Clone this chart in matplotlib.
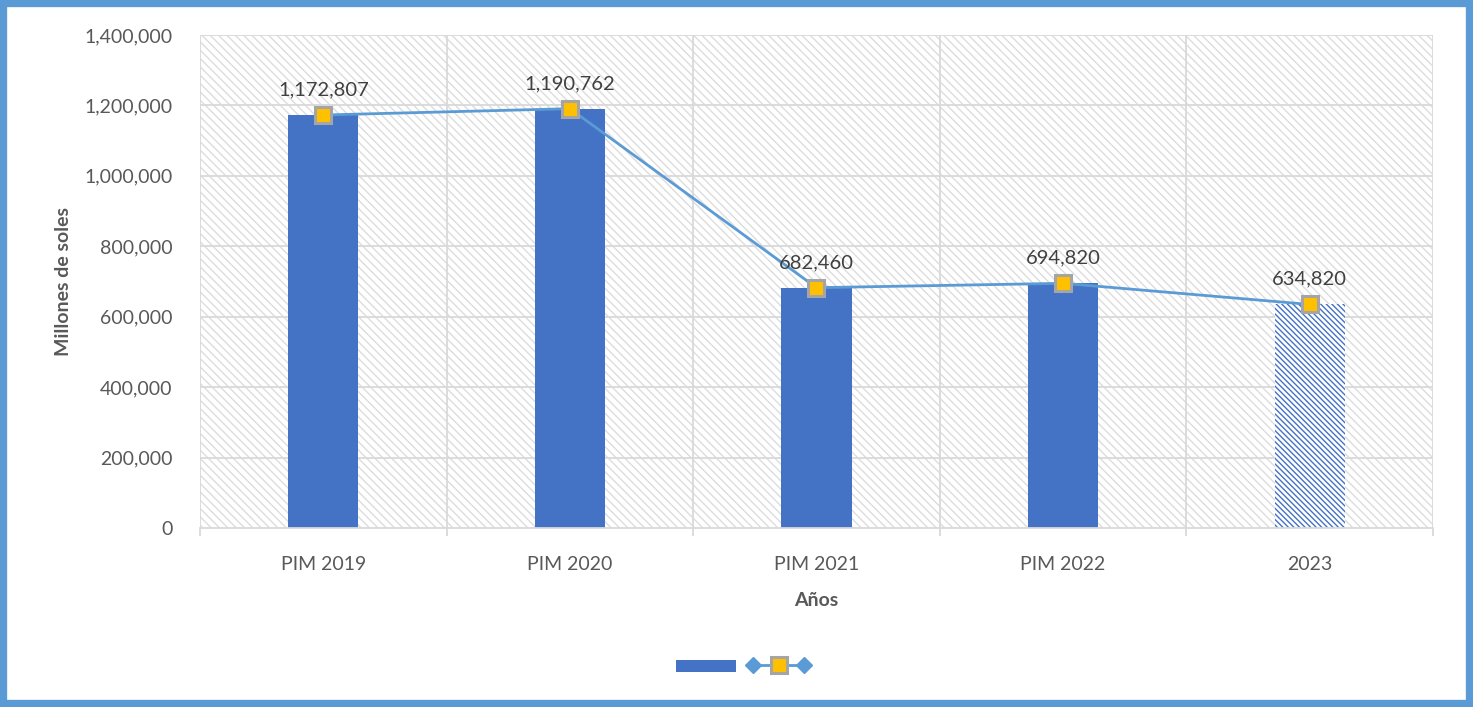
import matplotlib.pyplot as plt
import matplotlib.ticker as mticker
from matplotlib.patches import Rectangle
from matplotlib.lines import Line2D
from matplotlib.legend_handler import HandlerLine2D, HandlerTuple
import numpy as np

## Datos
categorias = ['PIM 2019', 'PIM 2020', 'PIM 2021', 'PIM 2022', '2023']
valores = [1172807, 1190762, 682460, 694820, 634820]
etiquetas = ['1,172,807', '1,190,762', '682,460', '694,820', '634,820']

azul = '#4472C4'
azul_linea = '#5B9BD5'
amarillo = '#FFC000'
gris_borde = '#A5A5A5'
gris_texto = '#595959'
gris_grid = '#D9D9D9'

plt.rcParams['font.family'] = ['Lato', 'DejaVu Sans']
plt.rcParams['hatch.linewidth'] = 1.0

fig = plt.figure(figsize=(14.73, 7.07), dpi=100)
ax = fig.add_axes([0.1358, 0.2532, 0.9728 - 0.1358, 0.9505 - 0.2532])

x = np.arange(len(categorias))
ax.set_xlim(-0.5, len(categorias) - 0.5)
ax.set_ylim(0, 1400000)

## fondo rayado
ax.add_patch(Rectangle((0, 0), 1, 1, transform=ax.transAxes, facecolor='white',
                       edgecolor='#DDDDDD', hatch='\\\\\\\\', lw=0, zorder=0))

## grilla
for yy in range(200000, 1400001, 200000):
    ax.axhline(yy, color=gris_grid, lw=1.3, zorder=1)
for xx in np.arange(-0.5, len(categorias), 1.0):
    ax.axvline(xx, color=gris_grid, lw=1.3, zorder=1)

## barras
barras = ax.bar(x, valores, width=0.285, color=azul, zorder=2)
barras[-1].set_facecolor('white')
barras[-1].set_edgecolor(azul)
barras[-1].set_hatch('\\\\\\\\\\\\')
barras[-1].set_linewidth(0)

## linea
ax.plot(x, valores, color=azul_linea, lw=2, marker='s', markersize=11,
        markerfacecolor=amarillo, markeredgecolor=gris_borde, markeredgewidth=2.2, zorder=3)

for xi, v, t in zip(x, valores, etiquetas):
    ax.annotate(t, (xi, v), xytext=(0, 12), textcoords='offset points',
                ha='center', va='bottom', fontsize=14.5, color='#404040', zorder=4)

## ejes
for s in ax.spines.values():
    s.set_visible(False)
ax.spines['bottom'].set_visible(True)
ax.spines['bottom'].set_color(gris_grid)
ax.spines['bottom'].set_linewidth(1.3)

ax.set_xticks(x)
ax.set_xticklabels(categorias)
ax.set_xticks(np.arange(-0.5, len(categorias), 1.0), minor=True)
ax.tick_params(axis='x', which='major', length=0, pad=20, labelsize=14, labelcolor=gris_texto)
ax.tick_params(axis='x', which='minor', length=6, color=gris_grid, width=1.3)
ax.yaxis.set_major_locator(mticker.MultipleLocator(200000))
ax.yaxis.set_major_formatter(mticker.FuncFormatter(lambda v, p: f'{int(v):,}'))
ax.tick_params(axis='y', length=0, pad=20, labelsize=14, labelcolor=gris_texto)

ax.set_xlabel('Años', fontsize=14, fontweight='bold', color=gris_texto, labelpad=14)
ax.set_ylabel('Millones de soles', fontsize=14, fontweight='bold', color=gris_texto, labelpad=9)

## leyenda
h_barra = Rectangle((0, 0), 1, 1, facecolor=azul)
h_diam = Line2D([], [], color=azul_linea, lw=2, marker='D', markersize=8,
                markerfacecolor=azul_linea, markeredgecolor=azul_linea)
h_cuad = Line2D([], [], color=azul_linea, lw=0, marker='s', markersize=11,
                markerfacecolor=amarillo, markeredgecolor=gris_borde, markeredgewidth=2.2)
fig.legend([h_barra, (h_diam, h_cuad)], ['', ''], loc='center', bbox_to_anchor=(0.504, 0.058),
           ncol=2, frameon=False, handlelength=4.3, handleheight=1.0, columnspacing=0.9,
           handletextpad=0.0,
           handler_map={h_diam: HandlerLine2D(numpoints=2), h_cuad: HandlerLine2D(numpoints=1),
                        tuple: HandlerTuple(ndivide=1, pad=0)})

## marco
fig.patches.append(Rectangle((0.002, 0.004), 0.996, 0.992, transform=fig.transFigure,
                             fill=False, edgecolor=azul_linea, lw=6))

fig.savefig('out.png', dpi=100, facecolor='white')
